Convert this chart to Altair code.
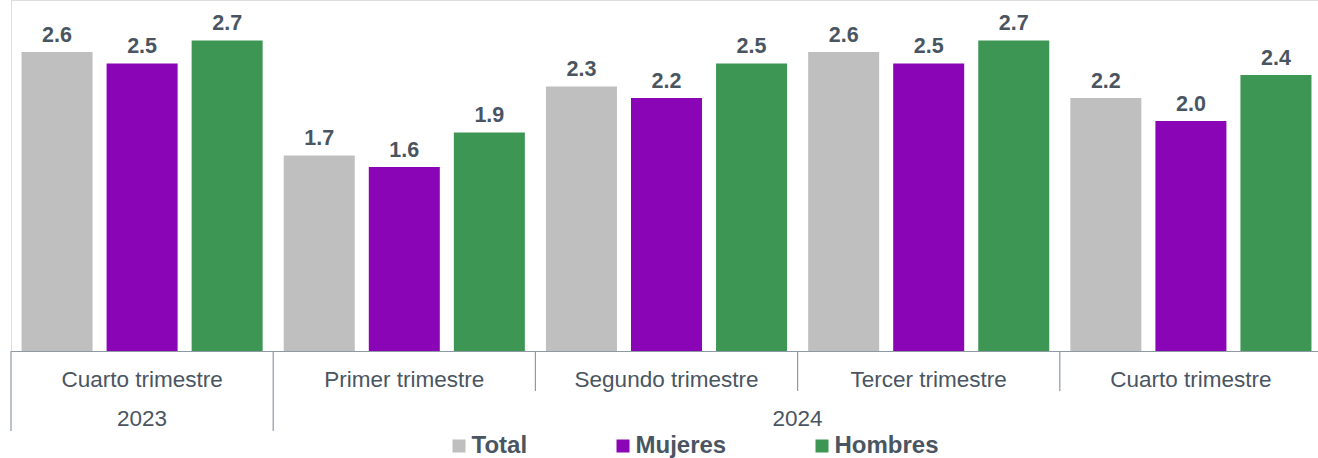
import altair as alt
import pandas as pd

years = ["2023", "2024", "2024", "2024", "2024"]
quarters = ["Cuarto trimestre", "Primer trimestre", "Segundo trimestre",
            "Tercer trimestre", "Cuarto trimestre"]
series = ["Total", "Mujeres", "Hombres"]
total = [2.6, 1.7, 2.3, 2.6, 2.2]
mujeres = [2.5, 1.6, 2.2, 2.5, 2.0]
hombres = [2.7, 1.9, 2.5, 2.7, 2.4]
colors = ["#bfbfbf", "#8a05b5", "#3d9654"]

keys = [f"{y}|{q}" for y, q in zip(years, quarters)]
values = {"Total": total, "Mujeres": mujeres, "Hombres": hombres}

rows = []
for i, k in enumerate(keys):
    for s in series:
        rows.append({"key": k, "year": years[i], "quarter": quarters[i],
                     "series": s, "value": values[s][i]})
df = pd.DataFrame(rows)

groups = pd.DataFrame({"key": keys, "year": years})
year_starts = groups.drop_duplicates("year")

# label position for each year: middle of its groups
year_lab_rows = []
for y in dict.fromkeys(years):
    idx = [i for i, yy in enumerate(years) if yy == y]
    n = len(idx)
    mid = idx[n // 2]
    year_lab_rows.append({"key": keys[mid], "year": y, "odd": n % 2 == 1})
year_labels = pd.DataFrame(year_lab_rows)

TXT = "#4a5562"
LINE = "#8d9aa4"
FONT = "Liberation Sans"

xscale = alt.Scale(domain=keys, paddingInner=0, paddingOuter=0)
x_enc = alt.X("key:N", scale=xscale, sort=keys, title=None,
              axis=alt.Axis(labelExpr="split(datum.label, '|')[1]",
                            ticks=False, domain=True, domainColor=LINE,
                            domainWidth=1.2, labelFontSize=22.5,
                            labelColor=TXT, labelFont=FONT, labelAngle=0,
                            labelBaseline="alphabetic", labelPadding=35.5,
                            labelLimit=400, labelOverlap=False))
xoff = alt.XOffset("series:N", sort=series,
                   scale=alt.Scale(paddingInner=0.165, paddingOuter=0.124))
yscale = alt.Scale(domain=[0, 3.052], nice=False, zero=True)

base = alt.Chart(df)

bars = base.mark_bar().encode(
    x=x_enc,
    xOffset=xoff,
    y=alt.Y("value:Q", scale=yscale, axis=None),
    color=alt.Color("series:N", sort=series,
                    scale=alt.Scale(domain=series, range=colors),
                    legend=alt.Legend(title=None, orient="none",
                                      direction="horizontal",
                                      legendX=436, legendY=434,
                                      symbolType="square", symbolSize=169,
                                      symbolStrokeWidth=0, symbolOpacity=1,
                                      labelFontSize=24, labelFontWeight="bold",
                                      labelColor=TXT, labelFont=FONT,
                                      labelOffset=0.5, columnPadding=83,
                                      padding=0)),
)

labels = base.mark_text(baseline="alphabetic", dy=-10, fontSize=21.5,
                        fontWeight="bold", color=TXT, font=FONT).encode(
    x=alt.X("key:N", scale=xscale, sort=keys),
    xOffset=xoff,
    y=alt.Y("value:Q", scale=yscale),
    text=alt.Text("value:Q", format=".1f"),
)

seps = alt.Chart(groups).mark_rule(color=LINE, strokeWidth=1.2).encode(
    x=alt.X("key:N", scale=xscale, sort=keys, bandPosition=0),
    y=alt.value(351), y2=alt.value(391),
)

year_seps = alt.Chart(year_starts).mark_rule(color=LINE, strokeWidth=1.2).encode(
    x=alt.X("key:N", scale=xscale, sort=keys, bandPosition=0),
    y=alt.value(391), y2=alt.value(431),
)

ytxt_odd = alt.Chart(year_labels).transform_filter("datum.odd").mark_text(
    baseline="alphabetic", fontSize=22.5, color=TXT, font=FONT).encode(
    x=alt.X("key:N", scale=xscale, sort=keys, bandPosition=0.5),
    y=alt.value(426), text="year:N",
)
ytxt_even = alt.Chart(year_labels).transform_filter("!datum.odd").mark_text(
    baseline="alphabetic", fontSize=22.5, color=TXT, font=FONT).encode(
    x=alt.X("key:N", scale=xscale, sort=keys, bandPosition=0),
    y=alt.value(426), text="year:N",
)

chart = alt.layer(bars, labels, seps, year_seps, ytxt_odd, ytxt_even).properties(
    width=1311, height=351,
    autosize=alt.AutoSizeParams(type="none"),
    padding={"left": 11, "top": 0, "right": -4, "bottom": 107},
).configure_view(stroke=None).configure(background="white")

chart.save("out.html", embed_options={"renderer": "svg", "actions": False})
